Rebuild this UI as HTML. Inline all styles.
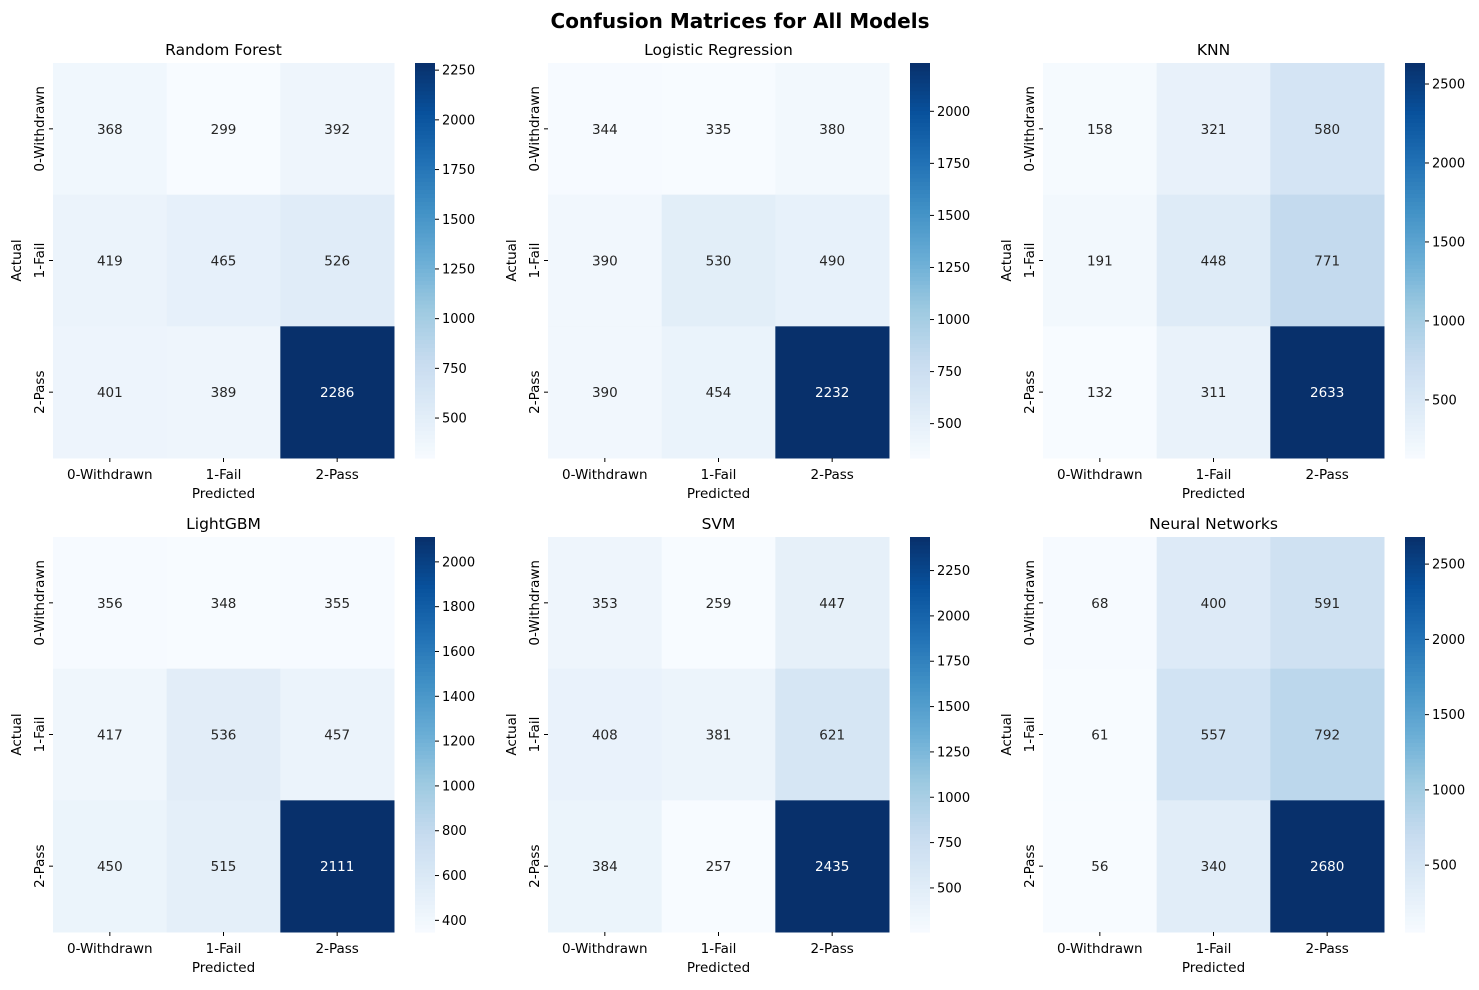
<!DOCTYPE html>
<html><head><meta charset="utf-8"><style>
body{margin:0;background:#fff;font-family:"Liberation Sans","DejaVu Sans",sans-serif}
svg text{font-family:"DejaVu Sans","Liberation Sans",sans-serif}
</style></head><body>
<svg id="c" width="1479" height="985" xmlns="http://www.w3.org/2000/svg">
<text x="740" y="28" text-anchor="middle" font-size="20" font-weight="bold">Confusion Matrices for All Models</text>
</svg>
<script>
const modelNames=["Random Forest","Logistic Regression","KNN","LightGBM","SVM","Neural Networks"];
const matRF=[[368,299,392],[419,465,526],[401,389,2286]];
const matLR=[[344,335,380],[390,530,490],[390,454,2232]];
const matKNN=[[158,321,580],[191,448,771],[132,311,2633]];
const matLGBM=[[356,348,355],[417,536,457],[450,515,2111]];
const matSVM=[[353,259,447],[408,381,621],[384,257,2435]];
const matNN=[[68,400,591],[61,557,792],[56,340,2680]];
const classLabels=["0-Withdrawn","1-Fail","2-Pass"];
const cbTicks=[[500,750,1000,1250,1500,1750,2000,2250],[500,750,1000,1250,1500,1750,2000],[500,1000,1500,2000,2500],[400,600,800,1000,1200,1400,1600,1800,2000],[500,750,1000,1250,1500,1750,2000,2250],[500,1000,1500,2000,2500]];
const mats=[matRF,matLR,matKNN,matLGBM,matSVM,matNN];
const stops=["#f7fbff","#deebf7","#c6dbef","#9ecae1","#6baed6","#4292c6","#2171b5","#08519c","#08306b"].map(h=>[1,3,5].map(i=>parseInt(h.substr(i,2),16)));
function blues(t){t=Math.max(0,Math.min(1,t))*8;const i=Math.min(7,Math.floor(t)),f=t-i;const a=stops[i],b=stops[i+1];return`rgb(${a.map((v,k)=>Math.round(v+(b[k]-v)*f)).join(",")})`;}
const svg=document.getElementById('c');const NS="http://www.w3.org/2000/svg";
function el(tag,attrs,txt){const e=document.createElementNS(NS,tag);for(const k in attrs)e.setAttribute(k,attrs[k]);if(txt!==undefined)e.textContent=txt;svg.appendChild(e);return e;}
const W=341,H=395,cw=W/3,ch=H/3;
mats.forEach((m,p)=>{
  const ox=53+(p%3)*495,oy=63+Math.floor(p/3)*474;
  const flat=m.flat(),mn=Math.min(...flat),mx=Math.max(...flat);
  const t=el('text',{x:ox+W/2,y:oy-8,'text-anchor':'middle','font-size':15.5},modelNames[p]);
  
  m.forEach((row,r)=>row.forEach((v,c)=>{
    const n=(v-mn)/(mx-mn);
    const rc=el('rect',{x:ox+c*cw,y:oy+r*ch,width:cw+0.5,height:ch+0.5,fill:blues(n)});
    
    const tx=el('text',{x:ox+c*cw+cw/2,y:oy+r*ch+ch/2+5,'text-anchor':'middle','font-size':13.5,fill:n>0.6?'#fff':'#262626'},v);
    
  }));
  classLabels.forEach((l,i)=>{
    const x=ox+i*cw+cw/2;
    el('line',{x1:x,x2:x,y1:oy+H,y2:oy+H+4,stroke:'#000'});
    const a=el('text',{x:x,y:oy+H+21,'text-anchor':'middle','font-size':13.5},l);
    
    const y=oy+i*ch+ch/2;
    el('line',{x1:ox-4,x2:ox,y1:y,y2:y,stroke:'#000'});
    const b=el('text',{x:0,y:0,'text-anchor':'middle','font-size':13.5,transform:`translate(${ox-9},${y}) rotate(-90)`},l);
    
  });
  const xl=el('text',{x:ox+W/2,y:oy+H+40,'text-anchor':'middle','font-size':13.5},'Predicted');
  
  const yl=el('text',{x:0,y:0,'text-anchor':'middle','font-size':13.5,transform:`translate(${ox-32},${oy+H/2}) rotate(-90)`},'Actual');
  
  const cx=ox+362,cbw=20;
  for(let k=0;k<100;k++){
    const r=el('rect',{x:cx,y:oy+H-(k+1)*H/100,width:cbw,height:H/100+0.6,fill:blues((k+0.5)/100)});
    
  }
  cbTicks[p].forEach(tv=>{
    if(tv<mn||tv>mx)return;
    const y=oy+H-(tv-mn)/(mx-mn)*H;
    el('line',{x1:cx+cbw,x2:cx+cbw+4,y1:y,y2:y,stroke:'#000'});
    const tl=el('text',{x:cx+cbw+7,y:y+4.5,'font-size':13},tv);
    
  });
});
</script>
</body></html>
